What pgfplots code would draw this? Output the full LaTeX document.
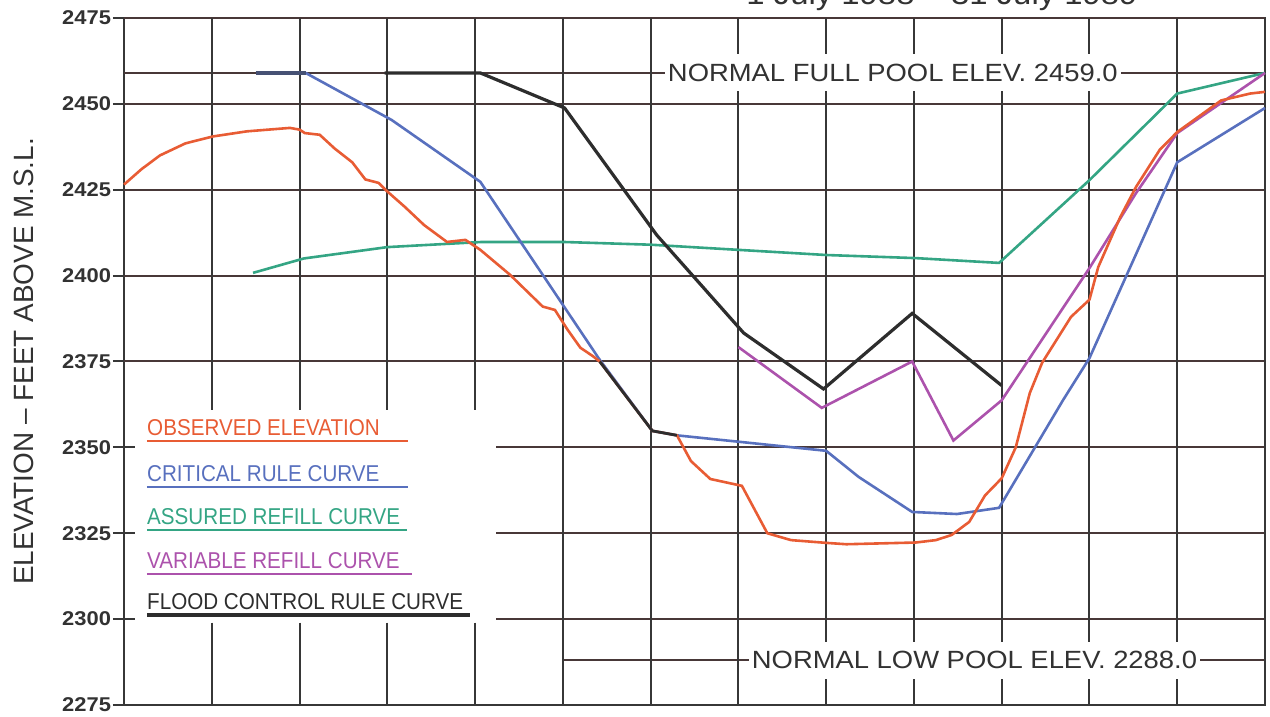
\documentclass[border=0pt]{standalone}
\usepackage{fontspec}
\setmainfont{Liberation Sans}
\newfontfamily\cadwide[FakeStretch=1.1]{Liberation Sans}
\newfontfamily\cadnarrow[FakeStretch=0.9]{Liberation Sans}
\usepackage{pgfplots}
\pgfplotsset{compat=1.18}

\definecolor{obscol}{RGB}{232,92,52}
\definecolor{critcol}{RGB}{88,112,190}
\definecolor{asscol}{RGB}{52,165,132}
\definecolor{varcol}{RGB}{172,82,172}
\definecolor{floodcol}{RGB}{45,45,45}
\definecolor{hline}{RGB}{72,56,56}
\definecolor{vline}{RGB}{55,55,55}
\definecolor{labgray}{RGB}{50,50,50}

\tikzset{
  hgrid/.style={hline, line width=1bp},
  vgrid/.style={vline, line width=1bp},
}

\begin{document}
\begin{tikzpicture}
\path[use as bounding box] (-62bp,-6bp) rectangle (573bp,352.5bp);
\begin{axis}[
  at={(0,0)}, anchor=south west,
  scale only axis, width=570.5bp, height=343.5bp,
  xmin=0, xmax=13, ymin=2275, ymax=2475,
  xtick=\empty,
  ytick={2275,2300,...,2475},
  ytick pos=left, tick align=center, major tick length=11bp,
  tick style={vline, line width=1bp},
  axis line style={vline, line width=1bp},
  clip=false,
  /pgf/number format/assume math mode=true,
  /pgf/number format/1000 sep={},
  yticklabel style={font=\cadwide\bfseries\fontsize{10}{11}\selectfont,
    text=labgray, xshift=2.5bp},
  ylabel={ELEVATION – FEET ABOVE M.S.L.},
  ylabel style={at={(axis description cs:-0.0876,0.5)}, anchor=center,
    font=\fontsize{14}{16}\selectfont, text=labgray},
]
% grid
\draw[hgrid] (axis cs:0,2450) -- (axis cs:13,2450);
\draw[hgrid] (axis cs:0,2425) -- (axis cs:13,2425);
\draw[hgrid] (axis cs:0,2400) -- (axis cs:13,2400);
\draw[hgrid] (axis cs:0,2375) -- (axis cs:13,2375);
\draw[hgrid] (axis cs:4.24,2350) -- (axis cs:13,2350);
\draw[hgrid] (axis cs:4.24,2325) -- (axis cs:13,2325);
\draw[hgrid] (axis cs:4.24,2300) -- (axis cs:13,2300);
\draw[hgrid] (axis cs:0,2459) -- (axis cs:13,2459);
\draw[hgrid] (axis cs:5,2288) -- (axis cs:13,2288);
\draw[hgrid] (axis cs:0,2475) -- (axis cs:13,2475);
\draw[vgrid] (axis cs:13,2475) -- (axis cs:13,2275);
\pgfplotsinvokeforeach{1,...,4}{
  \draw[vgrid] (axis cs:#1,2475) -- (axis cs:#1,2361);
  \draw[vgrid] (axis cs:#1,2299) -- (axis cs:#1,2275);
}
\pgfplotsinvokeforeach{5,...,12}{
  \draw[vgrid] (axis cs:#1,2475) -- (axis cs:#1,2275);
}

\node[fill=white, inner xsep=1.5bp, inner ysep=0pt, minimum height=18.5bp,
  font=\cadwide\fontsize{12.5}{13}\selectfont, text=labgray]
  at (axis cs:8.76,2459) {NORMAL FULL POOL ELEV. 2459.0};
\node[fill=white, inner xsep=1.5bp, inner ysep=0pt, minimum height=18.5bp,
  font=\cadwide\fontsize{12.5}{13}\selectfont, text=labgray]
  at (axis cs:9.69,2288) {NORMAL LOW POOL ELEV. 2288.0};

% assured refill curve
\addplot[asscol, line width=1.3bp] coordinates {
 (1.47,2400.8) (2.05,2405) (3.0,2408.3) (4.08,2409.8) (5.0,2409.8) (6.0,2409)
 (8.0,2406) (9.02,2405.1) (9.97,2403.7) (11.0,2427.8) (12.0,2453) (13.0,2459)
};
% variable refill curve
\addplot[varcol, line width=1.3bp] coordinates {
 (7.0,2379.2) (7.95,2361.5) (8.98,2375) (9.45,2352) (10.0,2363.7)
 (11.0,2402.2) (11.53,2424) (12.0,2441.5) (13.0,2459)
};
% critical rule curve
\addplot[critcol, line width=1.3bp] coordinates {
 (2.07,2459) (3.05,2445.3) (4.06,2427.3) (5.0,2391.5) (5.42,2375.5)
 (6.02,2354.8) (6.3,2353.5) (8.0,2349) (8.37,2341.4) (8.98,2331.2) (9.49,2330.6)
 (9.97,2332.4) (10.7,2363.8) (11.0,2376) (12.0,2433) (13.0,2448.8)
};
\addplot[critcol!45!vline, line width=1.6bp] coordinates {
 (1.5,2459) (2.07,2459)
};
% observed elevation
\addplot[obscol, line width=1.3bp] coordinates {
 (0.0,2426.5) (0.2,2431) (0.41,2435) (0.7,2438.5) (1.01,2440.5) (1.4,2442)
 (1.89,2443) (2.0,2442.5) (2.06,2441.5) (2.23,2441) (2.4,2437) (2.6,2433)
 (2.75,2428) (2.9,2427) (3.0,2424.5) (3.2,2420) (3.42,2414.7) (3.68,2409.8)
 (3.89,2410.4) (4.06,2407.5) (4.4,2400.2) (4.77,2391) (4.91,2390) (5.05,2384.4)
 (5.2,2379) (5.34,2376.6) (5.42,2375) (6.02,2354.8) (6.3,2353.5) (6.46,2346)
 (6.68,2340.8) (7.04,2338.8) (7.33,2325) (7.6,2323) (8.0,2322.2) (8.23,2321.8)
 (9.02,2322.3) (9.25,2323) (9.43,2324.5) (9.63,2328.3) (9.81,2336) (10.0,2341)
 (10.16,2350) (10.32,2365.8) (10.46,2374.6) (10.79,2388) (11.0,2393) (11.1,2402.5)
 (11.35,2417) (11.53,2425.8) (11.8,2436.6) (12.0,2441.8) (12.5,2451) (12.83,2453)
 (13.0,2453.5)
};
% flood control rule curve
\addplot[floodcol, line width=1.6bp] coordinates {
 (2.97,2459) (4.06,2459) (5.02,2448.8) (6.07,2411.8) (7.06,2383.3) (7.97,2367)
 (8.98,2389) (10.0,2368)
};
\addplot[floodcol, line width=1.4bp] coordinates {
 (5.42,2375) (6.02,2354.8) (6.3,2353.5)
};

% legend
\begin{scope}[font=\cadnarrow\fontsize{11.5}{12}\selectfont]
\node[anchor=base west, inner sep=0pt, text=obscol] at (axis cs:0.26,2353.6) {OBSERVED ELEVATION};
\draw[obscol, line width=1.2bp] (axis cs:0.26,2351.9) -- (axis cs:3.24,2351.9);
\node[anchor=base west, inner sep=0pt, text=critcol] at (axis cs:0.26,2340.2) {CRITICAL RULE CURVE};
\draw[critcol, line width=1.2bp] (axis cs:0.26,2338.5) -- (axis cs:3.24,2338.5);
\node[anchor=base west, inner sep=0pt, text=asscol] at (axis cs:0.26,2327.6) {ASSURED REFILL CURVE};
\draw[asscol, line width=1.2bp] (axis cs:0.26,2325.9) -- (axis cs:3.22,2325.9);
\node[anchor=base west, inner sep=0pt, text=varcol] at (axis cs:0.26,2314.8) {VARIABLE REFILL CURVE};
\draw[varcol, line width=1.2bp] (axis cs:0.26,2313.1) -- (axis cs:3.28,2313.1);
\node[anchor=base west, inner sep=0pt, text=floodcol] at (axis cs:0.26,2302.9) {FLOOD CONTROL RULE CURVE};
\draw[floodcol, line width=1.6bp] (axis cs:0.26,2301.2) -- (axis cs:3.94,2301.2);
\end{scope}

% title, mostly cut off by the top edge as in the scan
\node[anchor=base, font=\cadwide\fontsize{15}{16}\selectfont, text=labgray]
  at (axis cs:9.32,2475) [yshift=6.5bp] {1 July 1988 – 31 July 1989};
\end{axis}
\end{tikzpicture}
\end{document}
